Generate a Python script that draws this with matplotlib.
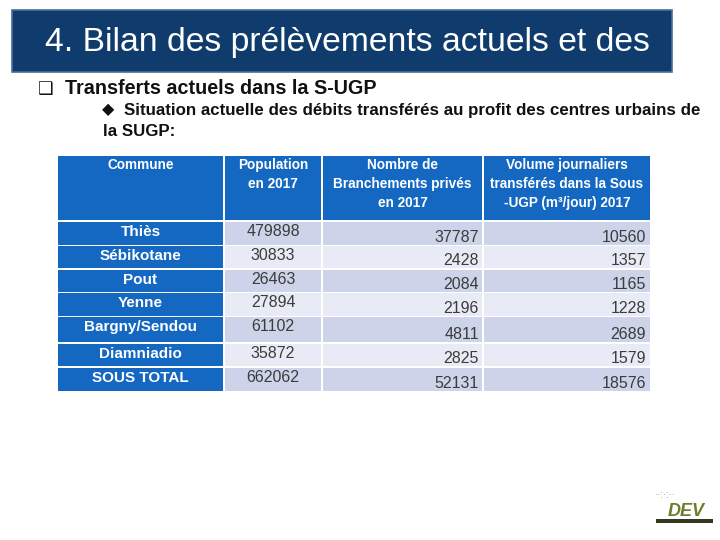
import matplotlib
matplotlib.use("Agg")
import matplotlib.pyplot as plt
from matplotlib.patches import Rectangle

plt.rcParams['font.family'] = ['Liberation Sans', 'DejaVu Sans']

title = "4. Bilan des prélèvements actuels et des"
bullet1 = "Transferts actuels dans la S-UGP"
bullet2a = "Situation actuelle des débits transférés au profit des centres urbains de"
bullet2b = "la SUGP:"

headers = ["Commune", "Population\nen 2017", "Nombre de\nBranchements privés\nen 2017",
           "Volume journaliers\ntransférés dans la Sous\n-UGP (m³/jour) 2017"]
communes = ["Thiès", "Sébikotane", "Pout", "Yenne", "Bargny/Sendou", "Diamniadio", "SOUS TOTAL"]
population = [479898, 30833, 26463, 27894, 61102, 35872, 662062]
branchements = [37787, 2428, 2084, 2196, 4811, 2825, 52131]
volumes = [10560, 1357, 1165, 1228, 2689, 1579, 18576]

fig = plt.figure(figsize=(7.2, 5.4), dpi=100)
ax = fig.add_axes([0, 0, 1, 1])
ax.set_xlim(0, 720)
ax.set_ylim(540, 0)
ax.axis('off')

# Title box
ax.add_patch(Rectangle((12, 10), 660, 62, facecolor='#0F3B6D', edgecolor='#4A6E9A', lw=1.2))
ax.text(45, 42, title, color='white', fontsize=24.3, va='center', ha='left')

# Bullets
ax.text(38, 89, "❑", fontsize=12.5, va='center', ha='left', color='#111111', family=['DejaVu Sans'])
ax.text(65, 89, bullet1, fontsize=14.2, fontweight='bold', va='center', ha='left', color='#111111')
ax.text(102, 110, "◆", fontsize=11.5, va='center', ha='left', color='#111111', family=['DejaVu Sans'])
ax.text(124, 111, bullet2a, fontsize=12.2, fontweight='bold', va='center', ha='left', color='#111111')
ax.text(103, 132, bullet2b, fontsize=12.2, fontweight='bold', va='center', ha='left', color='#111111')

# Table geometry
col_x = [58, 225, 323, 484]
col_w = [165, 96, 159, 166]
head_top, head_bot = 156, 220
row_tops = [222, 246, 270, 293, 317, 344, 368]
row_bots = [245, 268, 292, 316, 342, 366, 391]
blue = '#1468C2'
dark_row = '#CDD4E9'
light_row = '#E8EBF5'

for j in range(4):
    ax.add_patch(Rectangle((col_x[j], head_top), col_w[j], head_bot - head_top,
                           facecolor=blue, edgecolor='none'))
    ax.text(col_x[j] + col_w[j] / 2, head_top + 2, headers[j], color='white', fontsize=9.8,
            fontweight='bold', ha='center', va='top', linespacing=1.45)

for i in range(len(communes)):
    t, b = row_tops[i], row_bots[i]
    fill = dark_row if i % 2 == 0 else light_row
    for j in range(4):
        fc = blue if j == 0 else fill
        ax.add_patch(Rectangle((col_x[j], t), col_w[j], b - t, facecolor=fc, edgecolor='none'))
    ax.text(col_x[0] + col_w[0] / 2, t + 3, communes[i], color='white', fontsize=11,
            fontweight='bold', ha='center', va='top')
    ax.text(col_x[1] + col_w[1] / 2, t + 2, str(population[i]), color='#3C3C3C', fontsize=11.5,
            ha='center', va='top')
    ax.text(col_x[2] + col_w[2] - 3, b, str(branchements[i]), color='#3C3C3C', fontsize=11.5,
            ha='right', va='bottom')
    ax.text(col_x[3] + col_w[3] - 4, b, str(volumes[i]), color='#3C3C3C', fontsize=11.5,
            ha='right', va='bottom')

# Small logo
ax.text(686, 512, "DEV", fontsize=13, fontweight='bold', style='italic', color='#6B7F2A',
        ha='center', va='center')
ax.add_patch(Rectangle((656, 519), 57, 4, facecolor='#2E3A1E', edgecolor='none'))
ax.text(655, 495, "··:·:··", fontsize=7, color='#9AA86A', ha='left', va='center')

fig.savefig("out.png", dpi=100)
